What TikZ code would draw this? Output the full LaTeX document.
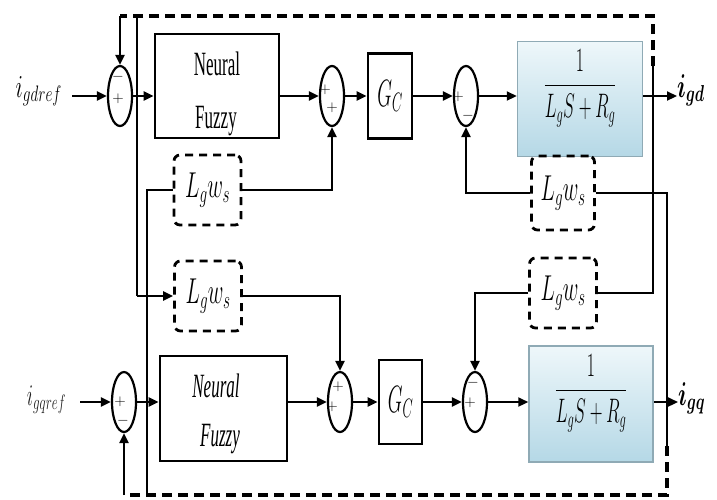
\RequirePackage{fix-cm}
\documentclass[tikz,border=0pt]{standalone}
\usepackage{amsmath}
\usepackage{fontspec}
\setmainfont{Liberation Serif}
\usepackage{graphicx}
\usetikzlibrary{arrows.meta,shapes.geometric,calc}
\definecolor{ptop}{HTML}{EEF7FA}
\definecolor{pbot}{HTML}{B5D8E6}
\definecolor{pedge}{HTML}{8FAAB5}
\newcommand{\sqz}[2]{\scalebox{#1}[1]{#2}}
\newcommand{\lgws}{\sqz{0.6}{\fontsize{36}{36}\selectfont$L_g w_s$}}
\newcommand{\gcl}{\sqz{0.5}{\fontsize{38}{38}\selectfont$G_C$}}
\newcommand{\plantfrac}{\sqz{0.52}{\fontsize{34}{34}\selectfont$\dfrac{1}{L_gS+R_g}$}}
\begin{document}
\begin{tikzpicture}[x=1pt,y=-1pt,
  conn/.style={line width=2.2pt},
  arr/.style={conn,-{Triangle[length=10pt,width=9pt]}},
  dashline/.style={line width=3.4pt,dash pattern=on 10pt off 6pt},
  sumj/.style={draw,ellipse,line width=2.2pt,minimum width=24pt,minimum height=60pt,inner sep=0pt},
  blk/.style={draw,line width=2.8pt,inner sep=0pt},
  lwbox/.style={draw,line width=2.8pt,dash pattern=on 8pt off 6pt,rounded corners=6pt,minimum width=67pt,minimum height=70pt,inner sep=0pt},
  plant/.style={draw=pedge,line width=1.5pt,top color=ptop,bottom color=pbot,minimum width=125pt,minimum height=115pt,inner sep=0pt,text height=30pt,text depth=40pt},
  sgn/.style={inner sep=0pt,font=\fontsize{15}{15}\selectfont},
  txt/.style={inner sep=0pt},
]
\fill[white] (0,0) rectangle (717,499);
\useasboundingbox (0,0) rectangle (717,499);

% ---------- d axis ----------
\node[txt,anchor=base east] (ldref) at (62,97) {\sqz{0.68}{\fontsize{32}{32}\selectfont$i_{gdref}$}};
\node[sumj] (c1) at (120,96) {};
\node[sgn] (c1a) at ($(c1)+(-2,-19)$) {$-$};
\node[sgn] (c1b) at ($(c1)+(-2,3)$) {$+$};
\node[blk,minimum width=124pt,minimum height=104pt] (nf1) at (217,86) {};
\node[txt] (nf1t) at (217,64) {\sqz{0.5}{\fontsize{34}{34}\selectfont Neural}};
\node[txt] (nf1b) at (216,121) {\sqz{0.5}{\fontsize{34}{34}\selectfont Fuzzy}};
\node[sumj] (c2) at (332,96) {};
\node[sgn] (c2a) at ($(c2)+(-7,-6)$) {$+$};
\node[sgn] (c2b) at ($(c2)+(0,12)$) {$+$};
\node[blk,minimum width=44pt,minimum height=85pt] (gc1) at (390,96) {\gcl};
\node[sumj] (c3) at (466,96) {};
\node[sgn] (c3a) at ($(c3)+(-8,1)$) {$+$};
\node[sgn] (c3b) at ($(c3)+(2,20)$) {$-$};
\node[plant] (p1) at (580,99) {\plantfrac};
\node[txt,anchor=base west] (lgd) at (677,97) {\sqz{0.66}{\fontsize{33}{33}\selectfont$\boldsymbol{i_{gd}}$}};

% ---------- decoupling blocks ----------
\node[lwbox] (lw1) at (207.5,190) {\lgws};
\node[lwbox,minimum width=63pt,minimum height=74pt] (lw2) at (563,193) {\lgws};
\node[lwbox] (lw3) at (208,296) {\lgws};
\node[lwbox] (lw4) at (563,293) {\lgws};

% ---------- q axis ----------
\node[txt,anchor=base east,text=black!88] (lqref) at (66,405) {\sqz{0.62}{\fontsize{30}{30}\selectfont$i_{gqref}$}};
\node[sumj] (c4) at (124,402) {};
\node[sgn] (c4a) at ($(c4)+(-4,0)$) {$+$};
\node[sgn] (c4b) at ($(c4)+(-1,19)$) {$-$};
\node[blk,minimum width=127pt,minimum height=105pt] (nf2) at (223.5,408.5) {};
\node[txt] (nf2t) at (216,386) {\sqz{0.5}{\fontsize{34}{34}\selectfont\itshape Neural}};
\node[txt] (nf2b) at (220,439) {\sqz{0.5}{\fontsize{34}{34}\selectfont\itshape Fuzzy}};
\node[sumj] (c5) at (340,402) {};
\node[sgn] (c5a) at ($(c5)+(-2,-15)$) {$+$};
\node[sgn] (c5b) at ($(c5)+(-8,5)$) {$+$};
\node[blk,minimum width=43pt,minimum height=84pt] (gc2) at (400.5,402) {\gcl};
\node[sumj] (c6) at (475,402) {};
\node[sgn] (c6a) at ($(c6)+(-2,-19)$) {$-$};
\node[sgn] (c6b) at ($(c6)+(-5,1)$) {$+$};
\node[plant,minimum width=124pt,minimum height=116pt] (p2) at (591,404) {\plantfrac};
\node[txt,anchor=base west] (lgq) at (678,405) {\sqz{0.66}{\fontsize{33}{33}\selectfont$\boldsymbol{i_{gq}}$}};

% ---------- corner coordinates ----------
\coordinate (din) at (72,96);
\coordinate (qin) at (80,402);
\coordinate (tl) at (120,16);
\coordinate (tr) at (653,16);
\coordinate (tm) at (653,66);
\coordinate (bl) at (124,495);
\coordinate (br) at (667,495);
\coordinate (bm) at (667,446);
\coordinate (v1top) at (137,16);
\coordinate (v2bot) at (147,495);

% ---------- d-axis forward path ----------
\draw[arr] (din) -- (c1.west);
\draw[arr] (c1.east) -- (c1.east -| nf1.west);
\draw[arr] (c1.east -| nf1.east) -- (c2.west);
\draw[arr] (c2.east) -- (c2.east -| gc1.west);
\draw[arr] (c2.east -| gc1.east) -- (c3.west);
\draw[arr] (c3.east) -- (c3.east -| p1.west);
\draw[arr] (c3.east -| p1.east) -- (c3.east -| lgd.west);

% ---------- q-axis forward path ----------
\draw[arr] (qin) -- (c4.west);
\draw[arr] (c4.east) -- (c4.east -| nf2.west);
\draw[arr] (c4.east -| nf2.east) -- (c5.west);
\draw[arr] (c5.east) -- (c5.east -| gc2.west);
\draw[arr] (c5.east -| gc2.east) -- (c6.west);
\draw[arr] (c6.east) -- (c6.east -| p2.west);
\draw[arr] (c6.east -| p2.east) -- (c6.east -| lgq.west);

% ---------- feedback loops ----------
\draw[dashline] (tm) -- (tr) -- (tl);
\draw[arr] (tl) -- (c1.north);
\draw[conn] (tm) -- (lw4.east -| tm) -- (lw4.east);
\draw[arr] (lw4.west) -| (c6.north);

\draw[dashline] (bm) -- (br) -- (bl);
\draw[arr] (bl) -- (c4.south);
\draw[conn] (bm) -- (lw2.east -| bm) -- (lw2.east);
\draw[arr] (lw2.west) -| (c3.south);

\draw[conn] (v1top) -- (lw3.west -| v1top);
\draw[arr] (lw3.west -| v1top) -- (lw3.west);
\draw[arr] (lw3.east) -| (c5.north);

\draw[conn] (v2bot) -- (lw1.west -| v2bot) -- (lw1.west);
\draw[arr] (lw1.east) -| (c2.south);
\end{tikzpicture}
\end{document}
